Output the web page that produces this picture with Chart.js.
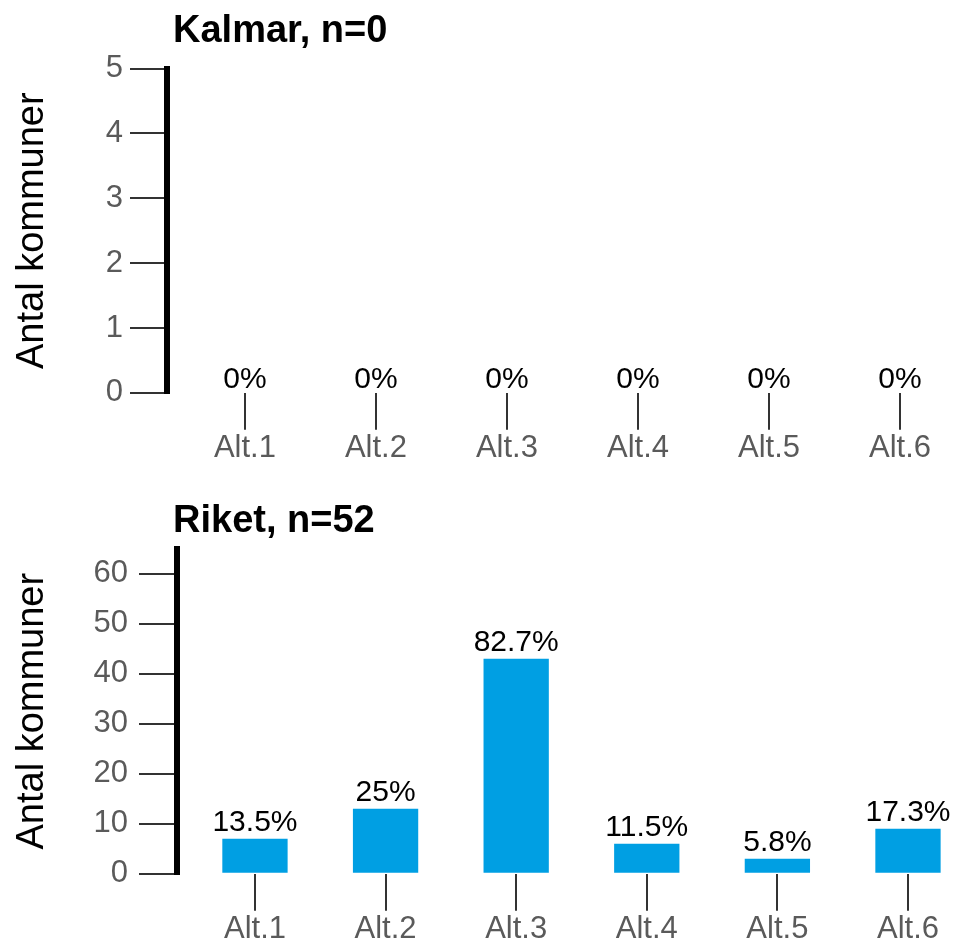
<!DOCTYPE html>
<html><head><meta charset="utf-8">
<script src="https://cdn.jsdelivr.net/npm/chart.js@4/dist/chart.umd.min.js"></script>
<style>
html,body{margin:0;padding:0;background:#fff;overflow:hidden;width:955px;height:944px;}
canvas{position:absolute;left:0;}
#c1{top:0}
#c2{top:481px}
</style></head><body>
<canvas id="c1" width="955" height="467"></canvas>
<canvas id="c2" width="955" height="467"></canvas>
<script>
// ---- data ----
const categories = ["Alt.1", "Alt.2", "Alt.3", "Alt.4", "Alt.5", "Alt.6"];
const yAxisTitle = "Antal kommuner";

const kalmarTitle = "Kalmar, n=0";
const kalmarCounts = [0, 0, 0, 0, 0, 0];
const kalmarPct = ["0%", "0%", "0%", "0%", "0%", "0%"];
const kalmarYTicks = [0, 1, 2, 3, 4, 5];

const riketTitle = "Riket, n=52";
const riketCounts = [7, 13, 43, 6, 3, 9];
const riketPct = ["13.5%", "25%", "82.7%", "11.5%", "5.8%", "17.3%"];
const riketYTicks = [0, 10, 20, 30, 40, 50, 60];

// ---- styling ----
const FONT = '"Liberation Sans", Arial, Helvetica, sans-serif';
Chart.defaults.font.family = FONT;
const BAR_COLOR = '#009fe3';
const TICK_TEXT = '#5a5a5a';
const TICK_LINE = '#333333';

const barLabels = {
  id: 'barLabels',
  afterDatasetsDraw(chart, args, opts) {
    const ctx = chart.ctx;
    const meta = chart.getDatasetMeta(0);
    ctx.save();
    ctx.font = '30px ' + FONT;
    ctx.fillStyle = '#000';
    ctx.textAlign = 'center';
    ctx.textBaseline = 'alphabetic';
    meta.data.forEach((bar, i) => {
      ctx.fillText(opts.labels[i], bar.x, bar.y - opts.gap);
    });
    ctx.restore();
  }
};

const titleShift = {
  id: 'titleShift',
  afterLayout(chart, args, opts) {
    const t = chart.titleBlock;
    if (t) {
      const w = t.right - t.left;
      t.left = opts.x;
      t.right = opts.x + w;
    }
  }
};

function makeChart(el, cfg) {
  return new Chart(el, {
    type: 'bar',
    data: {
      datasets: [{
        data: cfg.counts.map((v, i) => ({ x: i, y: v })),
        backgroundColor: BAR_COLOR,
        borderWidth: 0,
        barPercentage: 1,
        categoryPercentage: 0.5
      }]
    },
    plugins: [barLabels, titleShift],
    options: {
      responsive: false,
      animation: false,
      layout: { padding: 0 },
      plugins: {
        legend: { display: false },
        tooltip: { enabled: false },
        title: {
          display: true,
          text: cfg.title,
          align: 'start',
          fullSize: false,
          color: '#000',
          font: { size: 38, weight: 'bold', family: FONT },
          padding: { top: cfg.titlePadTop, bottom: cfg.titlePadBottom }
        },
        barLabels: { labels: cfg.pct, gap: cfg.labelGap },
        titleShift: { x: 173 }
      },
      scales: {
        x: {
          type: 'linear',
          min: cfg.xMin,
          max: cfg.xMax,
          offset: false,
          afterBuildTicks: (scale) => { scale.ticks = categories.map((c, i) => ({ value: i })); },
          border: { display: false },
          grid: {
            offset: false,
            drawOnChartArea: false,
            drawTicks: true,
            tickLength: 37,
            tickWidth: 2,
            tickColor: TICK_LINE,
            color: TICK_LINE,
            lineWidth: 2
          },
          ticks: {
            padding: 0,
            color: TICK_TEXT,
            font: { size: 31, family: FONT },
            maxRotation: 0,
            autoSkip: false,
            callback: (v) => categories[v]
          }
        },
        y: {
          min: 0,
          max: cfg.yMax,
          afterBuildTicks: (scale) => { scale.ticks = cfg.yTicks.map(v => ({ value: v })); },
          afterFit: (scale) => { scale.width = cfg.yWidth; },
          border: { display: true, color: '#000', width: 6 },
          grid: {
            drawOnChartArea: false,
            drawTicks: true,
            tickLength: cfg.yTickLen,
            tickWidth: 2,
            tickColor: TICK_LINE,
            color: TICK_LINE,
            lineWidth: 2
          },
          ticks: {
            padding: cfg.yTickPad,
            color: TICK_TEXT,
            font: { size: 31, family: FONT }
          },
          title: {
            display: true,
            text: yAxisTitle,
            color: '#000',
            font: { size: 38, family: FONT },
            padding: { top: 10, bottom: 0 }
          }
        }
      }
    }
  });
}

makeChart(document.getElementById('c1'), {
  title: kalmarTitle, counts: kalmarCounts, pct: kalmarPct, yTicks: kalmarYTicks,
  yMax: 5, xMin: -0.595, xMax: 5.42, yWidth: 167, yTickLen: 37, yTickPad: 7,
  titlePadTop: 9, titlePadBottom: 14, labelGap: 5
});
makeChart(document.getElementById('c2'), {
  title: riketTitle, counts: riketCounts, pct: riketPct, yTicks: riketYTicks,
  yMax: 65, xMin: -0.597, xMax: 5.36, yWidth: 177, yTickLen: 38, yTickPad: 11,
  titlePadTop: 18, titlePadBottom: 4, labelGap: 8
});
</script>
</body></html>
